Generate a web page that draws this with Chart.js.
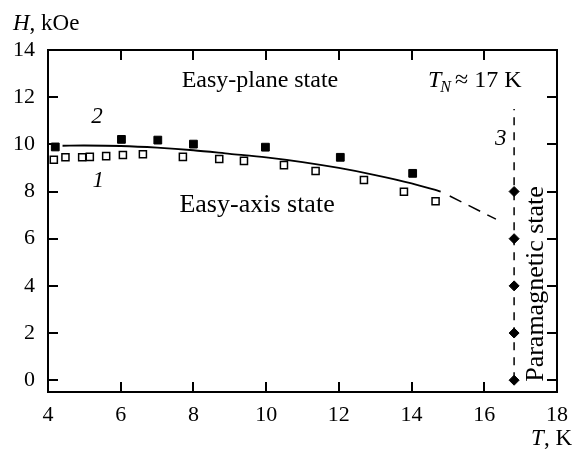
<!DOCTYPE html>
<html>
<head>
<meta charset="utf-8">
<script src="https://cdn.jsdelivr.net/npm/chart.js@4.4.1/dist/chart.umd.min.js"></script>
<style>
  html, body { margin: 0; padding: 0; background: #fff; }
  #wrap { width: 578px; height: 449px; }
</style>
</head>
<body>
<div id="wrap"><canvas id="chart"></canvas></div>
<script>
// Curve 1: open squares
const openT = [4.16, 4.48, 4.94, 5.15, 5.60, 6.06, 6.61, 7.71, 8.71, 9.39, 10.49, 11.36, 12.69, 13.79, 14.66];
const openH = [9.35, 9.45, 9.45, 9.47, 9.50, 9.55, 9.58, 9.47, 9.38, 9.30, 9.12, 8.87, 8.49, 7.99, 7.59];

// Curve 2: filled squares
const filledT = [4.20, 6.02, 7.02, 8.00, 9.98, 12.04, 14.03];
const filledH = [9.89, 10.21, 10.18, 10.01, 9.88, 9.45, 8.77];

// Solid guide line and its dashed extrapolation
const fitT = [4.4, 5, 6, 7, 8, 9, 10, 11, 12, 13, 14, 14.8];
const fitH = [9.94, 9.95, 9.93, 9.86, 9.75, 9.60, 9.45, 9.25, 9.00, 8.70, 8.35, 8.00];
const extrapT = [15.05, 16.32];
const extrapH = [7.81, 6.83];

// Curve 3: Neel temperature boundary
const paraT = [16.82, 16.82, 16.82, 16.82, 16.82];
const paraH = [0, 2, 4, 6, 8];
const boundaryT = [16.82, 16.82];
const boundaryH = [0, 11.5];

const xTicks = [4, 6, 8, 10, 12, 14, 16, 18];
const yTicks = [0, 2, 4, 6, 8, 10, 12, 14];

const SERIF = "'Liberation Serif', 'Times New Roman', serif";

const pts = (xs, ys) => xs.map((x, i) => ({ x: x, y: ys[i] }));

// text annotations in data units
const notes = [
  { text: 'Easy-plane state', x: 9.83, y: 12.43, size: 24 },
  { text: 'Easy-axis state', x: 9.75, y: 7.13, size: 26 }
];
const curveNums = [
  { text: '2', x: 5.35, y: 10.9 },
  { text: '1', x: 5.38, y: 8.2 },
  { text: '3', x: 16.45, y: 9.98 }
];

const framePlugin = {
  id: 'frame',
  afterDraw(chart) {
    const { ctx, chartArea: a, scales: { x, y } } = chart;
    const len = 10;
    ctx.save();
    ctx.strokeStyle = '#000';
    ctx.lineWidth = 2;
    ctx.strokeRect(a.left, a.top, a.right - a.left, a.bottom - a.top);
    ctx.beginPath();
    xTicks.slice(1, -1).forEach(v => {
      const px = Math.round(x.getPixelForValue(v));
      ctx.moveTo(px, a.bottom); ctx.lineTo(px, a.bottom - len);
      ctx.moveTo(px, a.top); ctx.lineTo(px, a.top + len);
    });
    yTicks.forEach(v => {
      const py = Math.round(y.getPixelForValue(v));
      if (py <= a.top + 1) return;
      ctx.moveTo(a.left, py); ctx.lineTo(a.left + len, py);
      ctx.moveTo(a.right, py); ctx.lineTo(a.right - len, py);
    });
    ctx.stroke();

    ctx.fillStyle = '#000';
    ctx.textBaseline = 'alphabetic';
    notes.forEach(n => {
      ctx.font = n.size + 'px ' + SERIF;
      ctx.textAlign = 'center';
      ctx.fillText(n.text, x.getPixelForValue(n.x), y.getPixelForValue(n.y));
    });
    curveNums.forEach(n => {
      ctx.font = 'italic 23px ' + SERIF;
      ctx.textAlign = 'center';
      ctx.fillText(n.text, x.getPixelForValue(n.x), y.getPixelForValue(n.y));
    });

    // T_N ≈ 17 K
    ctx.textAlign = 'left';
    let tx = 428, ty = 87;
    ctx.font = 'italic 24px ' + SERIF;
    ctx.fillText('T', tx, ty);
    tx += ctx.measureText('T').width - 1;
    ctx.font = 'italic 16px ' + SERIF;
    ctx.fillText('N', tx, ty + 5);
    tx += ctx.measureText('N').width + 4;
    ctx.font = '24px ' + SERIF;
    ctx.fillText('\u2248 17 K', tx, ty);

    // Paramagnetic state (vertical)
    ctx.save();
    ctx.translate(543, 284);
    ctx.rotate(-Math.PI / 2);
    ctx.font = '26px ' + SERIF;
    ctx.textAlign = 'center';
    ctx.fillText('Paramagnetic state', 0, 0);
    ctx.restore();

    // axis titles
    ctx.textAlign = 'left';
    ctx.font = 'italic 23px ' + SERIF;
    ctx.fillText('H', 13, 30);
    let hx = 13 + ctx.measureText('H').width;
    ctx.font = '23px ' + SERIF;
    ctx.fillText(', kOe', hx, 30);

    ctx.font = '23px ' + SERIF;
    const kw = ctx.measureText(', K').width;
    ctx.fillText(', K', 572 - kw, 445);
    ctx.font = 'italic 23px ' + SERIF;
    const tw = ctx.measureText('T').width;
    ctx.fillText('T', 572 - kw - tw, 445);
    ctx.restore();
  }
};

new Chart(document.getElementById('chart'), {
  type: 'scatter',
  data: {
    datasets: [
      {
        data: pts(fitT, fitH), showLine: true, borderColor: '#000', borderWidth: 1.8,
        pointRadius: 0, tension: 0.3
      },
      {
        data: pts(extrapT, extrapH), showLine: true, borderColor: '#000', borderWidth: 1.5,
        borderDash: [13, 8], pointRadius: 0
      },
      {
        data: pts(boundaryT, boundaryH), showLine: true, borderColor: '#000', borderWidth: 1.5,
        borderDash: [8, 7], pointRadius: 0
      },
      {
        data: pts(openT, openH), pointStyle: 'rect', pointRadius: 5,
        pointBackgroundColor: '#fff', pointBorderColor: '#000', pointBorderWidth: 1.5
      },
      {
        data: pts(filledT, filledH), pointStyle: 'rect', pointRadius: 5.5,
        pointBackgroundColor: '#000', pointBorderColor: '#000', pointBorderWidth: 1
      },
      {
        data: pts(paraT, paraH), pointStyle: 'rectRot', pointRadius: 5,
        pointBackgroundColor: '#000', pointBorderColor: '#000', pointBorderWidth: 1
      }
    ]
  },
  options: {
    responsive: true,
    maintainAspectRatio: false,
    animation: false,
    layout: { padding: { top: 50, right: 20, left: 0, bottom: 0 } },
    plugins: { legend: { display: false }, tooltip: { enabled: false } },
    scales: {
      x: {
        type: 'linear', min: 4, max: 18,
        afterBuildTicks: s => { s.ticks = xTicks.map(v => ({ value: v })); },
        afterFit: s => { s.height = 57; },
        grid: { display: false, drawTicks: false },
        border: { display: false },
        ticks: { color: '#000', padding: 10, font: { family: SERIF, size: 22 } }
      },
      y: {
        type: 'linear', min: -0.5, max: 14,
        afterBuildTicks: s => { s.ticks = yTicks.map(v => ({ value: v })); },
        afterFit: s => { s.width = 48; },
        grid: { display: false, drawTicks: false },
        border: { display: false },
        ticks: { color: '#000', padding: 13, font: { family: SERIF, size: 22 } }
      }
    }
  },
  plugins: [framePlugin]
});
</script>
</body>
</html>
